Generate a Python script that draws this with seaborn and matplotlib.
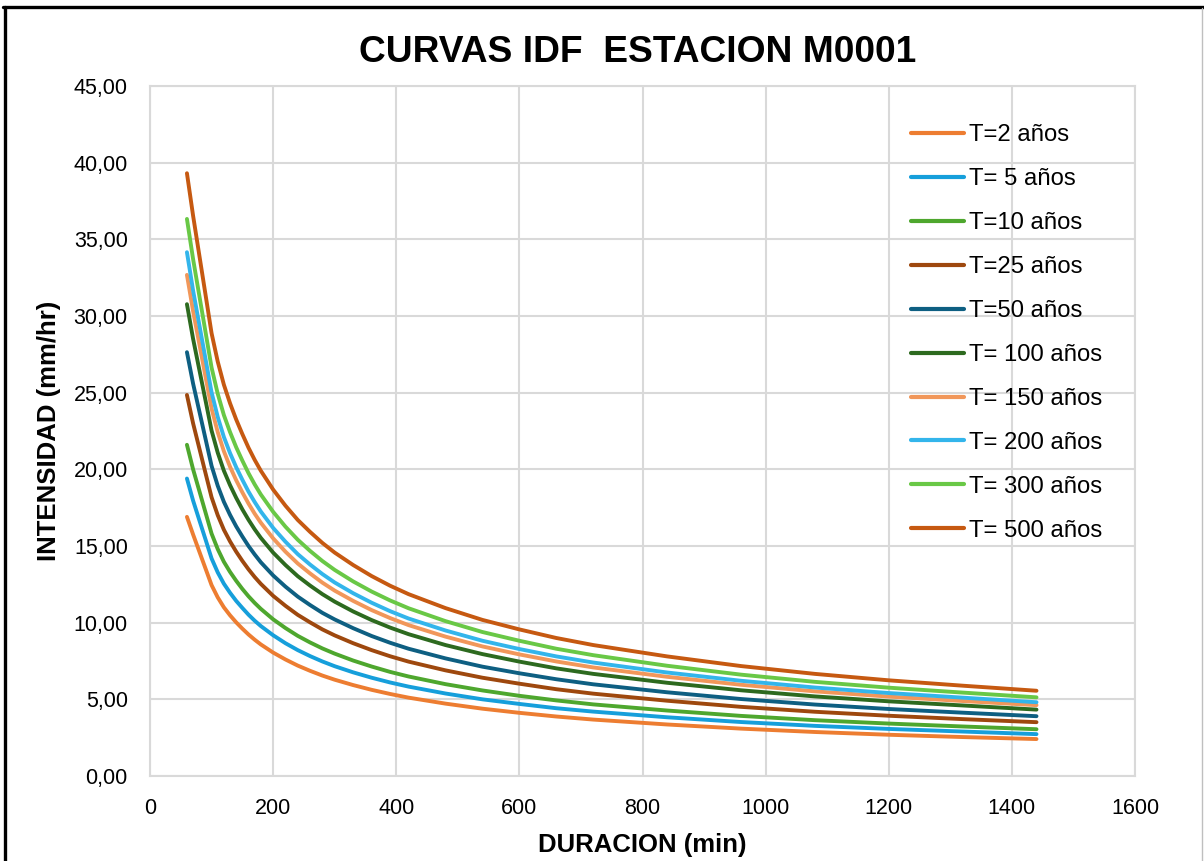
import matplotlib
matplotlib.use("Agg")
import matplotlib.pyplot as plt
from matplotlib.lines import Line2D
from matplotlib.ticker import FuncFormatter, MultipleLocator
import pandas as pd
import seaborn as sns

# duracion (min)
duracion = [60, 70, 80, 90, 100, 110, 120, 130, 140, 150, 160, 170, 180, 200, 220, 240,
            260, 280, 300, 330, 360, 390, 420, 480, 540, 600, 660, 720, 840, 960, 1080,
            1200, 1320, 1440]

# intensidad (mm/hr) por periodo de retorno
t2 = [16.90, 15.75, 14.65, 13.55, 12.45, 11.65, 11.00, 10.48, 10.02, 9.61, 9.23, 8.89,
      8.58, 8.05, 7.60, 7.20, 6.86, 6.55, 6.28, 5.93, 5.62, 5.35, 5.11, 4.72, 4.39, 4.12,
      3.88, 3.68, 3.36, 3.09, 2.87, 2.69, 2.54, 2.41]
t5 = [19.40, 17.96, 16.70, 15.45, 14.19, 13.28, 12.54, 11.95, 11.42, 10.96, 10.52, 10.13,
      9.78, 9.18, 8.66, 8.21, 7.82, 7.47, 7.16, 6.76, 6.41, 6.10, 5.83, 5.38, 5.00, 4.70,
      4.42, 4.20, 3.83, 3.52, 3.27, 3.07, 2.90, 2.73]
t10 = [21.60, 20.00, 18.61, 17.21, 15.81, 14.80, 13.97, 13.31, 12.73, 12.20, 11.72, 11.29,
       10.90, 10.22, 9.65, 9.14, 8.71, 8.32, 7.98, 7.53, 7.14, 6.79, 6.49, 5.99, 5.58, 5.23,
       4.93, 4.67, 4.27, 3.92, 3.64, 3.42, 3.23, 3.05]
t25 = [24.85, 23.00, 21.39, 19.78, 18.18, 17.01, 16.06, 15.30, 14.63, 14.03, 13.48, 12.98,
       12.53, 11.75, 11.10, 10.51, 10.02, 9.56, 9.17, 8.66, 8.21, 7.81, 7.46, 6.89, 6.41,
       6.02, 5.66, 5.37, 4.91, 4.51, 4.19, 3.93, 3.71, 3.51]
t50 = [27.64, 25.59, 23.81, 22.02, 20.23, 18.93, 17.88, 17.03, 16.28, 15.62, 15.00, 14.45,
       13.94, 13.08, 12.35, 11.70, 11.15, 10.64, 10.21, 9.64, 9.13, 8.69, 8.30, 7.67, 7.13,
       6.70, 6.31, 5.98, 5.46, 5.02, 4.66, 4.37, 4.13, 3.90]
t100 = [30.77, 28.51, 26.52, 24.53, 22.53, 21.09, 19.91, 18.97, 18.14, 17.39, 16.71, 16.09,
        15.53, 14.57, 13.76, 13.03, 12.42, 11.86, 11.37, 10.73, 10.17, 9.68, 9.25, 8.54,
        7.95, 7.46, 7.02, 6.66, 6.08, 5.59, 5.19, 4.87, 4.60, 4.33]
t150 = [32.68, 30.32, 28.20, 26.08, 23.97, 22.43, 21.18, 20.17, 19.29, 18.50, 17.77, 17.11,
        16.52, 15.50, 14.63, 13.86, 13.21, 12.61, 12.09, 11.42, 10.82, 10.30, 9.84, 9.09,
        8.45, 7.93, 7.47, 7.08, 6.47, 5.95, 5.52, 5.18, 4.89, 4.62]
t200 = [34.16, 31.66, 29.45, 27.24, 25.02, 23.42, 22.11, 21.06, 20.14, 19.32, 18.55, 17.87,
        17.25, 16.18, 15.28, 14.47, 13.79, 13.17, 12.62, 11.92, 11.30, 10.75, 10.27, 9.49,
        8.82, 8.28, 7.80, 7.40, 6.75, 6.21, 5.77, 5.41, 5.11, 4.81]
t300 = [36.33, 33.71, 31.35, 29.00, 26.64, 24.93, 23.54, 22.43, 21.44, 20.57, 19.75, 19.02,
        18.36, 17.23, 16.26, 15.41, 14.68, 14.02, 13.44, 12.69, 12.03, 11.45, 10.94, 10.10,
        9.39, 8.82, 8.30, 7.88, 7.19, 6.61, 6.14, 5.76, 5.44, 5.13]
t500 = [39.31, 36.54, 33.99, 31.44, 28.88, 27.03, 25.52, 24.31, 23.25, 22.30, 21.41, 20.62,
        19.91, 18.68, 17.63, 16.70, 15.92, 15.20, 14.57, 13.76, 13.04, 12.41, 11.86, 10.95,
        10.18, 9.56, 9.00, 8.54, 7.80, 7.17, 6.66, 6.24, 5.89, 5.56]

etiquetas = ["T=2 años", "T= 5 años", "T=10 años", "T=25 años", "T=50 años",
             "T= 100 años", "T= 150 años", "T= 200 años", "T= 300 años", "T= 500 años"]
series = [t2, t5, t10, t25, t50, t100, t150, t200, t300, t500]
colores = ["#ED7D31", "#169FDB", "#4EA72E", "#9E480E", "#0E5F82",
           "#2D6A1F", "#F1975A", "#33B5EB", "#69C846", "#C65911"]

df = pd.concat([pd.DataFrame({"duracion": duracion, "intensidad": s, "T": e})
                for s, e in zip(series, etiquetas)], ignore_index=True)

sns.set_style("white")
plt.rcParams["font.family"] = ["Liberation Sans", "DejaVu Sans"]
plt.rcParams["text.color"] = "black"
plt.rcParams["axes.labelcolor"] = "black"
plt.rcParams["xtick.color"] = "black"
plt.rcParams["ytick.color"] = "black"

fig = plt.figure(figsize=(12.04, 8.61), dpi=100)
ax = fig.add_axes([150 / 1204, 1 - 776 / 861, 985 / 1204, 690 / 861])

sns.lineplot(data=df, x="duracion", y="intensidad", hue="T", hue_order=etiquetas,
             palette=colores, linewidth=2.8, legend=False, ax=ax, zorder=3)
for ln in ax.lines:
    ln.set_solid_joinstyle("round")
    ln.set_solid_capstyle("round")

ax.set_xlim(0, 1600)
ax.set_ylim(0, 45)
ax.xaxis.set_major_locator(MultipleLocator(200))
ax.yaxis.set_major_locator(MultipleLocator(5))
ax.yaxis.set_major_formatter(FuncFormatter(lambda v, p: f"{v:.2f}".replace(".", ",")))
ax.grid(True, color="#D9D9D9", linewidth=1.5)
ax.set_axisbelow(True)
for sp in ax.spines.values():
    sp.set_color("#D9D9D9")
    sp.set_linewidth(1.5)
ax.tick_params(axis="x", length=0, pad=16, labelsize=15.5, colors="black")
ax.tick_params(axis="y", length=0, pad=16, labelsize=15.5, colors="black")

ax.set_xlabel("DURACION (min)", fontsize=18.5, fontweight="bold", labelpad=10)
ax.set_ylabel("INTENSIDAD (mm/hr)", fontsize=18.5, fontweight="bold", labelpad=9)
fig.text(638 / 1204, 1 - 52 / 861, "CURVAS IDF  ESTACION M0001", fontsize=26.7,
         fontweight="bold", ha="center", va="center")

handles = [Line2D([], [], color=c, linewidth=3) for c in colores]
ax.legend(handles, etiquetas, loc="upper left", bbox_to_anchor=(911 / 1204, 1 - 124 / 861),
          bbox_transform=fig.transFigure, frameon=False, fontsize=17.2, handlelength=2.2,
          handletextpad=0.22, labelspacing=0.92, borderpad=0, borderaxespad=0)

# marco del grafico
fig.add_artist(Line2D([4.5 / 1204, 4.5 / 1204], [0, 1 - 7 / 861], color="black",
                      linewidth=2.4, transform=fig.transFigure))
fig.add_artist(Line2D([3 / 1204, 1], [1 - 7 / 861, 1 - 7 / 861], color="black",
                      linewidth=2.4, transform=fig.transFigure))
fig.add_artist(Line2D([1201.5 / 1204, 1201.5 / 1204], [0, 1 - 8 / 861], color="#BFBFBF",
                      linewidth=1, transform=fig.transFigure))

fig.savefig("out.png", dpi=100)
